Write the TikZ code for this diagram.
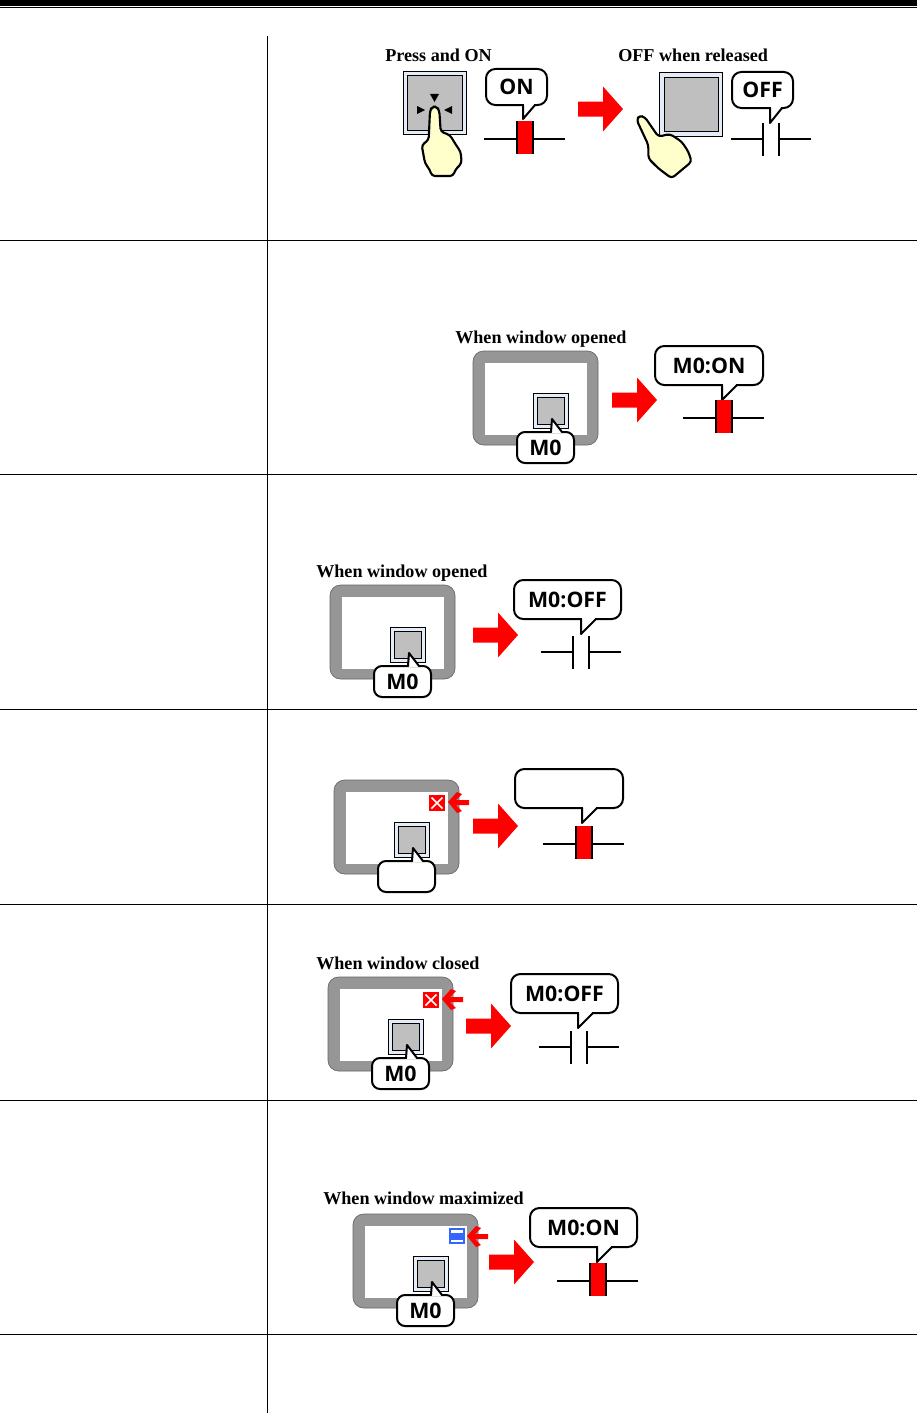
\documentclass[tikz,border=0pt]{standalone}
\usepackage{fontspec}
\setmainfont{Liberation Serif}
\newfontfamily\bubblefont{Open Sans}
\usepackage{tikz}
\usetikzlibrary{calc}

\definecolor{framegray}{HTML}{969696}
\definecolor{keygray}{HTML}{BFBFBF}
\definecolor{keyrim}{HTML}{E4ECF7}
\definecolor{handfill}{HTML}{FFFFCC}
\definecolor{maxblue}{HTML}{3366FF}

\tikzset{
  rule/.style={line width=0.75pt},
  caption/.style={anchor=west, inner sep=0pt, font=\fontsize{13.6}{15}\selectfont\bfseries},
  bubble/.style={draw=black, fill=white, line width=1.5pt, line join=round},
  bubbletext/.style={inner sep=0pt, font=\fontsize{16}{18}\selectfont\bubblefont\bfseries},
  wire/.style={line width=1.5pt},
  hand/.style={draw=black, fill=handfill, line width=1.6pt, line join=round, rounded corners=2.5pt},
}

% big red arrow, #1 left end, #2 middle height
\newcommand{\bigarrow}[2]{
  \fill[red, shift={(#1,#2)}] (0,-7.5) -- (25,-7.5) -- (25,-22.5) -- (45,0) -- (25,22.5) -- (25,7.5) -- (0,7.5) -- cycle;
}
% key with rim, #1 #2 top left, #3 size of rim
\newcommand{\keybox}[3]{
  \begin{scope}[shift={(#1,#2)}]
    \draw[fill=keyrim, line width=0.75pt] (0,0) rectangle (#3,#3);
    \draw[fill=keygray, line width=0.75pt] (4,4) rectangle ($(#3,#3)-(4,4)$);
  \end{scope}
}
% bubble with tail below: name, x, y, width, height, tail left, tail right, tail drop, text
\newcommand{\callout}[9]{
  \begin{scope}[shift={(#2,#3)}]
    \draw[bubble, rounded corners=7pt] (1,1) rectangle (#4-1,#5-1);
    \fill[white] (#6+1,#5-2) rectangle (#7-1,#5);
    \draw[bubble] (#7,#5-1) -- (#6,#5+#8) -- (#6,#5-1);
    \node[bubbletext] (#1) at (#4/2,#5/2) {#9};
  \end{scope}
}
% window with key and tag: name, x, y, tag text
\newcommand{\windowfig}[4]{
  \begin{scope}[shift={(#2,#3)}]
    \draw[fill=framegray, draw=black!60, line width=0.5pt, rounded corners=8pt] (0,0) rectangle (125,94);
    \fill[white] (12,12) rectangle (114,84);
    \keybox{60}{42}{35}
    \draw[bubble, rounded corners=6pt] (44,81) rectangle (101,112);
    \fill[white] (79,80) rectangle (88,82);
    \draw[bubble] (78,81) -- (79,68) -- (89,81);
    \node[bubbletext] (#1) at (72.5,97) {#4};
  \end{scope}
}
% small red arrow at the window button: #1 #2 window top left
\newcommand{\smallarrow}[2]{
  \fill[red, shift={(#1,#2)}] (114,22) -- (123,12) -- (128,14) -- (122,20) -- (135,20) -- (135,25) -- (122,25) -- (128,31) -- (123,33) -- cycle;
}
% close button
\newcommand{\closebox}[2]{
  \begin{scope}[shift={(#1,#2)}]
    \fill[red] (95,15) rectangle (111,31);
    \draw[white, line width=1.2pt] (97.5,17.5) -- (108.5,28.5) (108.5,17.5) -- (97.5,28.5);
  \end{scope}
}
\newcommand{\contacton}[2]{
  \begin{scope}[shift={(#1,#2)}]
    \fill[red] (32,-18) rectangle (49,15);
    \draw[wire] (0,0) -- (32,0) (49,0) -- (81,0);
    \draw[wire] (32.5,-18) -- (32.5,15) (48.5,-18) -- (48.5,15);
  \end{scope}
}
\newcommand{\contactoff}[2]{
  \begin{scope}[shift={(#1,#2)}]
    \draw[wire] (0,0) -- (32,0) (48,0) -- (80,0);
    \draw[wire] (32,-16) -- (32,17) (48,-16) -- (48,17);
  \end{scope}
}

\begin{document}
\begin{tikzpicture}[x=0.75pt, y=-0.75pt]
  \useasboundingbox (0,0) rectangle (917,1413);
  \fill[white] (0,0) rectangle (917,1413);

  % page head and table
  \fill[black] (0,0) rectangle (917,5.6);
  \fill[black] (0,6.8) rectangle (917,8.2);
  \draw[rule] (267,36) -- (267,1413);
  \foreach \rowy in {240,474,709,904,1100,1334}
    \draw[rule] (0,\rowy) -- (917,\rowy);

  % first row
  \node[caption] (presscap) at (385,55) {Press and ON};
  \node[caption] (offcap) at (618,55) {OFF when released};
  \begin{scope}[shift={(403,72)}]
    \draw[fill=keyrim, line width=0.75pt] (0,0) rectangle (63,62);
    \draw[fill=keygray, line width=0.75pt] (4,4) rectangle (59,58);
    \fill[black] (27,22) -- (36,22) -- (31.5,30) -- cycle;
    \fill[black] (14,34) -- (22,38) -- (14,42) -- cycle;
    \fill[black] (49,34) -- (41,38) -- (49,42) -- cycle;
  \end{scope}
  \begin{scope}[shift={(659,73)}]
    \draw[fill=keyrim, line width=0.75pt] (0,0) rectangle (63,63);
    \draw[fill=keygray, line width=0.75pt] (5,5) rectangle (59,58);
  \end{scope}
  \begin{scope}[shift={(370,30)}, x=0.25pt, y=-0.25pt]
    \draw[hand] (176,330) -- (180,242) -- (187,230) -- (200,230) -- (208,242) -- (212,305) -- (240,315) -- (258,345) -- (272,365) -- (275,400) -- (255,420) -- (250,438) -- (185,438) -- (180,420) -- (165,400) -- (155,345) -- cycle;
    \draw[hand] (835,345) -- (800,270) -- (808,256) -- (825,262) -- (865,320) -- (900,312) -- (935,335) -- (955,365) -- (965,395) -- (905,445) -- (865,415) -- (835,385) -- cycle;
  \end{scope}
  \callout{onbub}{485}{68}{63}{38}{38}{50}{13}{ON}
  \callout{offbub}{731}{71}{63}{38}{39}{51}{14}{OFF}
  \contacton{484}{139}
  \contactoff{731}{139}
  \bigarrow{578}{109}

  % second row
  \node[caption] (opencapa) at (455,339) {When window opened};
  \windowfig{tagb}{473}{351}{M0}
  \bigarrow{612}{400}
  \callout{bubb}{654}{345}{110}{41}{68}{83}{14}{M0:ON}
  \contacton{683}{418}

  % third row
  \node[caption] (opencapb) at (316,573) {When window opened};
  \windowfig{tagc}{330}{585}{M0}
  \bigarrow{473}{635}
  \callout{bubc}{513}{579}{109}{41}{68}{83}{14}{M0:OFF}
  \contactoff{541}{652}

  % fourth row
  \windowfig{tagd}{334}{780}{}
  \closebox{334}{780}
  \smallarrow{334}{780}
  \bigarrow{473}{826}
  \callout{bubd}{514}{768}{110}{41}{68}{83}{14}{}
  \contacton{543}{844}

  % fifth row
  \node[caption] (closecap) at (316,963) {When window closed};
  \windowfig{tage}{328}{977}{M0}
  \closebox{328}{977}
  \smallarrow{328}{977}
  \bigarrow{466}{1026}
  \callout{bube}{510}{973}{109}{41}{68}{83}{14}{M0:OFF}
  \contactoff{539}{1047}

  % sixth row
  \node[caption] (maxcap) at (323,1198) {When window maximized};
  \windowfig{tagf}{353}{1214}{M0}
  \begin{scope}[shift={(353,1214)}]
    \fill[maxblue] (96,14) rectangle (112,30);
    \fill[white] (98,16) rectangle (110,28);
    \fill[maxblue] (98,19) rectangle (110,26);
  \end{scope}
  \smallarrow{353}{1214}
  \bigarrow{489}{1262}
  \callout{bubf}{529}{1207}{109}{41}{68}{83}{14}{M0:ON}
  \contacton{557}{1281}
\end{tikzpicture}
\end{document}
